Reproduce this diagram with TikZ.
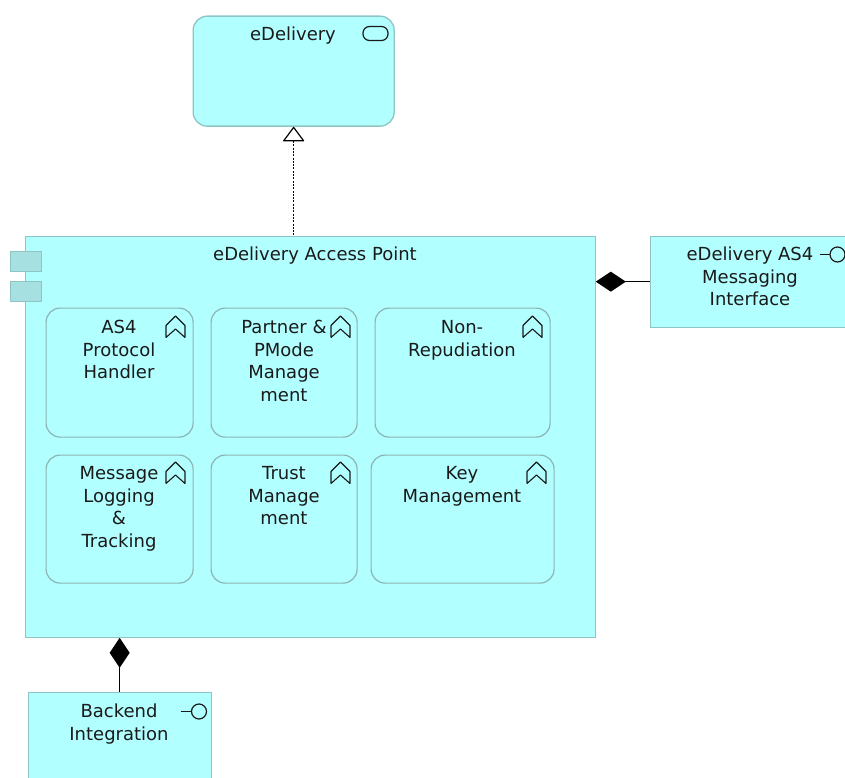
\documentclass[tikz,border=0pt]{standalone}
\usepackage{fontspec}
\setmainfont{DejaVu Sans}
\usetikzlibrary{arrows.meta}
\definecolor{archifill}{HTML}{B2FFFF}
\definecolor{archiline}{HTML}{8FC4C4}
\definecolor{childline}{HTML}{8CB4B4}
\definecolor{tabfill}{HTML}{A6E0E0}
\definecolor{txt}{HTML}{1A1A1A}
\tikzset{
  x=1pt,y=-1pt,
  archibox/.style={draw=archiline,fill=archifill,line width=1.3pt,anchor=north west,inner sep=0pt},
  roundbox/.style={archibox,rounded corners=14pt},
  tabbox/.style={draw=archiline,fill=tabfill,line width=1.3pt,anchor=north west,inner sep=0pt,minimum width=31pt,minimum height=20pt},
  childbox/.style={draw=childline,fill=archifill,line width=1.2pt,rounded corners=14pt,anchor=north west,inner sep=0pt},
  lbl/.style={anchor=north,align=center,inner sep=0pt,text=txt,font=\fontsize{18}{22.7}\selectfont},
  iconline/.style={draw=black!90,line width=1.2pt},
  realizes/.style={draw=black,line width=1pt,dash pattern=on 2pt off 1.3pt,{Triangle[open,fill=white,length=15pt,width=22pt,line width=1.2pt,round=false]}-},
  composes/.style={draw=black,line width=1.2pt,{Diamond[fill=black,length=30pt,width=20pt]}-}
}
\newcommand{\chevicon}[2]{\draw[iconline,line width=1.1pt,line join=bevel] (#1+0.5,#2+10) -- (#1+10,#2+0.5) -- (#1+19.5,#2+10) -- (#1+19.5,#2+22) -- (#1+10,#2+13.5) -- (#1+0.5,#2+22) -- cycle;}
\begin{document}
\begin{tikzpicture}
\clip (0,0) rectangle (845,778);
\fill[white] (0,0) rectangle (845,778);
\begin{scope}[shift={(-0.5,-0.5)}]
% service
\node[roundbox,minimum width=201pt,minimum height=110pt] (ed) at (193,16) {};
\node[lbl] (edt) at (293.5,27) {eDelivery};
\draw[iconline,rounded corners=6.5pt] (363.5,27) rectangle (388.5,41);
% main component
\node[archibox,minimum width=570pt,minimum height=401pt] (ap) at (25,236) {};
\node[tabbox] (tab1) at (10,251) {};
\node[tabbox] (tab2) at (10,281) {};
\node[lbl] (apt) at (315.5,247) {eDelivery Access Point};
% children
\node[childbox,minimum width=147pt,minimum height=129pt] (c1) at (46,308) {};
\node[lbl] (c1t) at (119.5,320.5) {AS4\\Protocol\\Handler};
\chevicon{166}{316}
\node[childbox,minimum width=146pt,minimum height=129pt] (c2) at (211,308) {};
\node[lbl] (c2t) at (284.5,320.5) {Partner \&\\PMode\\Manage\\ment};
\chevicon{331}{316}
\node[childbox,minimum width=175pt,minimum height=129pt] (c3) at (375,308) {};
\node[lbl] (c3t) at (462.5,320.5) {Non-\\Repudiation};
\chevicon{523}{316}
\node[childbox,minimum width=147pt,minimum height=128pt] (c4) at (46,455) {};
\node[lbl] (c4t) at (119.5,466.5) {Message\\Logging\\\&\\Tracking};
\chevicon{166}{462}
\node[childbox,minimum width=146pt,minimum height=128pt] (c5) at (211,455) {};
\node[lbl] (c5t) at (284.5,466.5) {Trust\\Manage\\ment};
\chevicon{331}{462}
\node[childbox,minimum width=183pt,minimum height=128pt] (c6) at (371,455) {};
\node[lbl] (c6t) at (462.5,466.5) {Key\\Management};
\chevicon{527}{462}
% interfaces
\node[archibox,minimum width=200pt,minimum height=91pt] (if1) at (650,236) {};
\node[lbl] (if1t) at (750.5,247) {eDelivery AS4\\Messaging\\Interface};
\draw[iconline] (820,255) -- (830,255);
\draw[iconline] (838,255) circle (7.5);
\node[archibox,minimum width=183pt,minimum height=120pt] (if2) at (28,692) {};
\node[lbl] (if2t) at (119.5,704) {Backend\\Integration};
\draw[iconline] (181,712) -- (192,712);
\draw[iconline] (199.5,712) circle (7.5);
% connectors
\draw[realizes] (ed.south) -- (ed.south |- ap.north);
\draw[composes] (ap.east |- if1.west) -- (if1.west);
\draw[composes] (if2.north |- ap.south) -- (if2.north);
\end{scope}
\end{tikzpicture}
\end{document}
